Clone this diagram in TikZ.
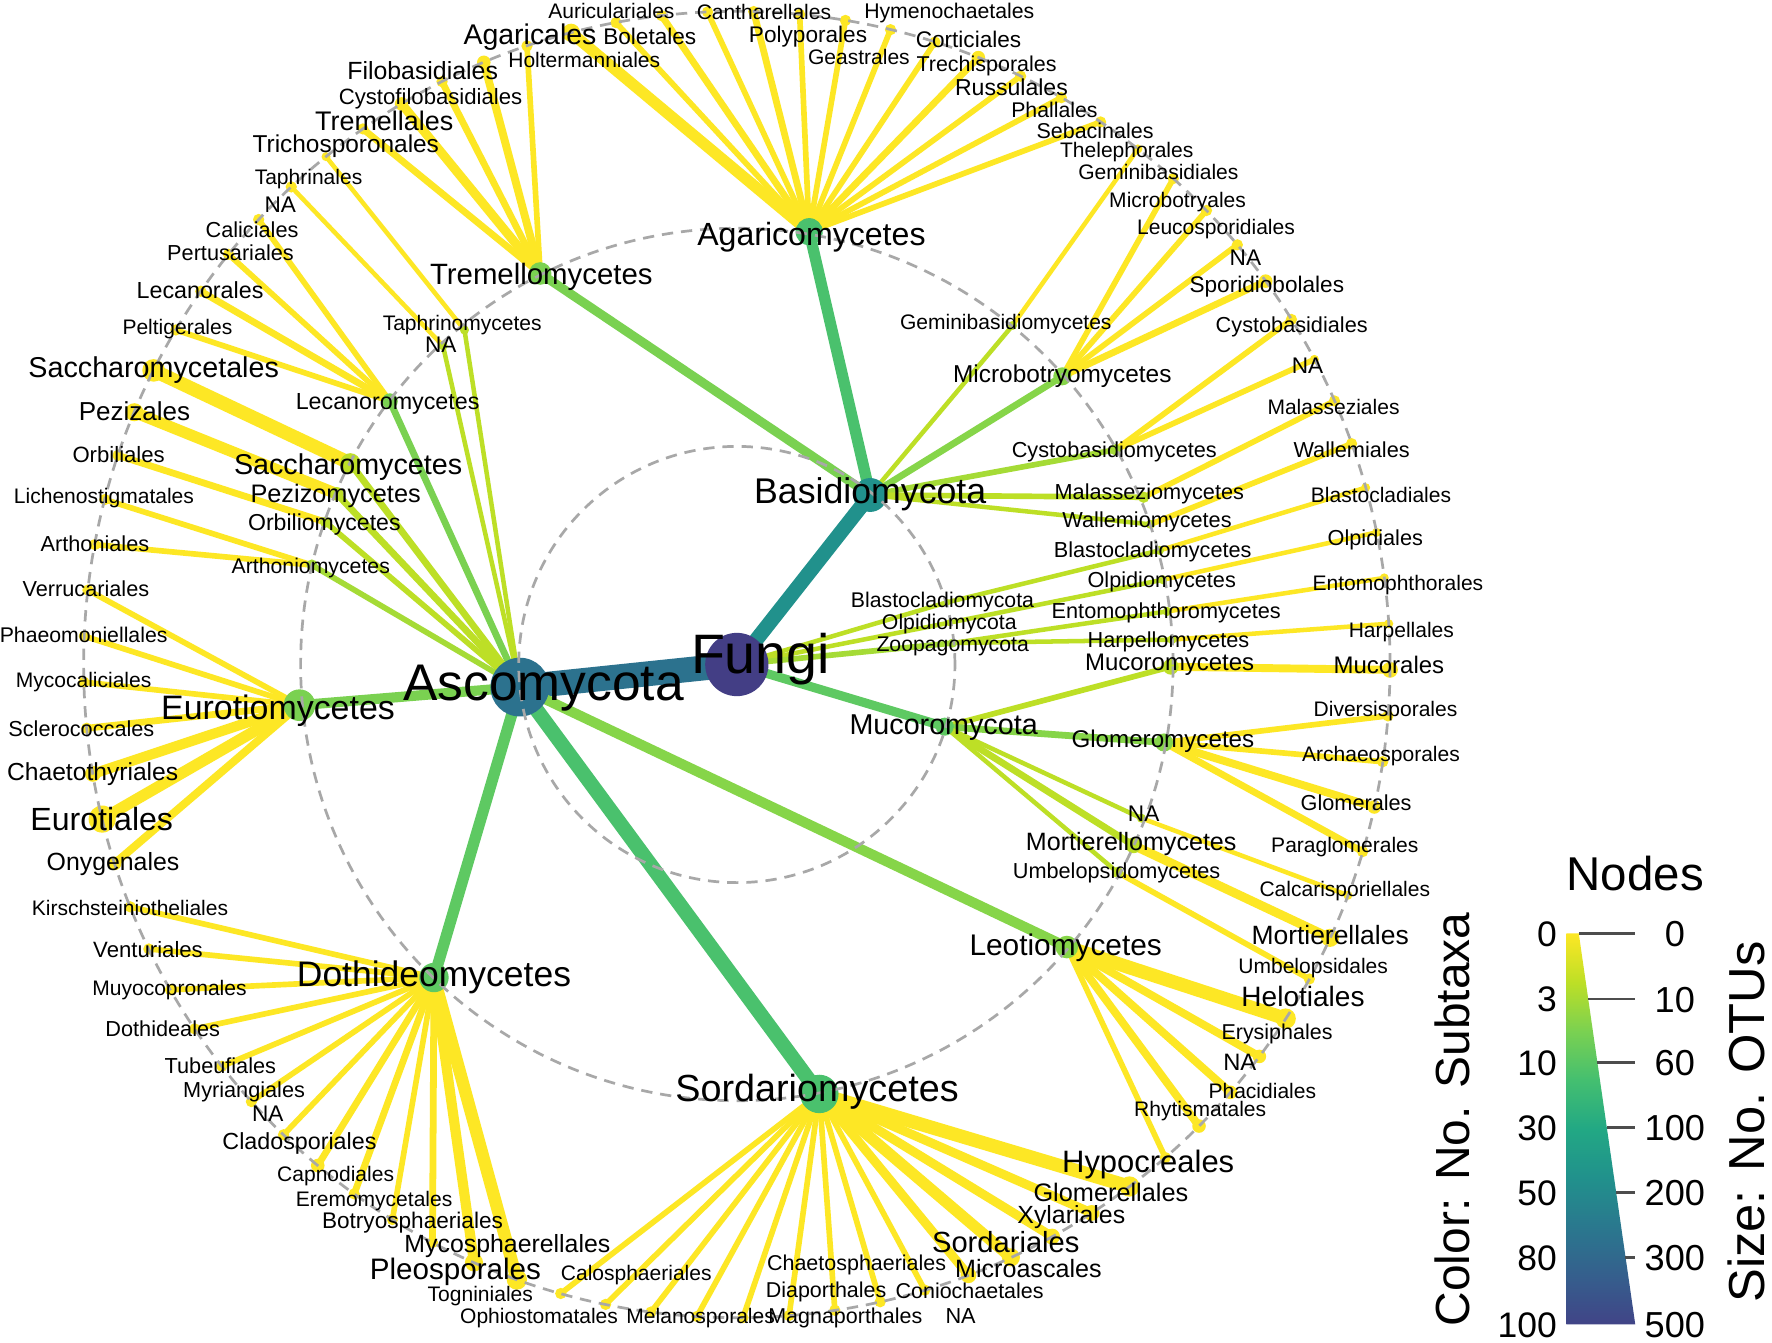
\documentclass[tikz,border=0pt]{standalone}
\usepackage{fontspec}
\setmainfont{Liberation Sans}
\usetikzlibrary{positioning}

\definecolor{cfungi}{HTML}{433E85}
\definecolor{casco}{HTML}{2C728E}
\definecolor{cbasid}{HTML}{21918C}
\definecolor{cgreen}{HTML}{4AC16D}
\definecolor{cgreenb}{HTML}{5EC962}
\definecolor{clight}{HTML}{7AD151}
\definecolor{clightb}{HTML}{86D549}
\definecolor{clime}{HTML}{A5DB36}
\definecolor{climeb}{HTML}{BDDF26}
\definecolor{cyel}{HTML}{FDE725}
\definecolor{cring}{HTML}{A8A8A8}
\definecolor{ctick}{HTML}{4D4D4D}
% legend colours
\definecolor{va}{HTML}{414487}
\definecolor{vb}{HTML}{355F8D}
\definecolor{vc}{HTML}{2A788E}
\definecolor{vd}{HTML}{21918C}
\definecolor{ve}{HTML}{22A884}
\definecolor{vf}{HTML}{44BF70}
\definecolor{vg}{HTML}{7AD151}
\definecolor{vh}{HTML}{BDDF26}
\definecolor{vi}{HTML}{FDE725}
\pgfdeclareverticalshading{virleg}{100bp}{color(0bp)=(va); color(25bp)=(va);
  color(31.25bp)=(vb); color(37.5bp)=(vc); color(43.75bp)=(vd); color(50bp)=(ve);
  color(56.25bp)=(vf); color(62.5bp)=(vg); color(68.75bp)=(vh); color(75bp)=(vi);
  color(100bp)=(vi)}

\pgfdeclarelayer{back}
\pgfdeclarelayer{edges}
\pgfsetlayers{back,edges,main}

\tikzset{
  tdot/.style={circle, inner sep=0pt, minimum size=#1pt},
  lnk/.style={line width=#1*0.5pt},
  ord/.style={line width=#1*0.5pt, cyel},
  lab/.style={font=\fontsize{#1}{#1}\selectfont, inner sep=0pt, text height=#1*0.72pt, text depth=0pt},
}
\tikzstyle{ring} = [cring, line width=1.2pt, dash pattern=on 5pt off 3.5pt]
\tikzstyle{legtick} = [ctick, line width=1.2pt]

\begin{document}
\begin{tikzpicture}[x=0.5pt, y=-0.5pt]
\useasboundingbox (0,0) rectangle (1568,1188);
\begin{pgfonlayer}{back}
\fill[white] (0,0) rectangle (1568,1188);
\end{pgfonlayer}
\coordinate (C) at (652,588);

% kingdom and phyla
\node[tdot=28, fill=cfungi] (fungi) at (C) {};
\node[tdot=26, fill=casco] (asco) at (460,608) {};
\node[tdot=15, fill=cbasid] (basidio) at (770,438) {};
\node[tdot=8, fill=cgreenb] (mucoro) at (836,643) {};
\node[tdot=3, fill=climeb] (blastophy) at (838,533) {};
\node[tdot=3, fill=climeb] (olpidiophy) at (840,551) {};
\node[tdot=4, fill=clime] (zoopago) at (843,569) {};

% classes
\node[tdot=17, fill=cgreen] (sordario) at (725,968) {};
\node[tdot=13, fill=cgreenb] (dothideo) at (384,865) {};
\node[tdot=14, fill=clight] (euroti) at (265,624) {};
\node[tdot=10, fill=clightb] (leotio) at (944,838) {};
\node[tdot=7, fill=clight] (lecanoro) at (345,355) {};
\node[tdot=9, fill=climeb] (saccharo) at (310,410) {};
\node[tdot=6, fill=climeb] (pezizo) at (298,437) {};
\node[tdot=5, fill=climeb] (orbilio) at (288,462) {};
\node[tdot=5, fill=clime] (arthonio) at (276,500) {};
\node[tdot=4, fill=climeb] (taphrino) at (411,292) {};
\node[tdot=4, fill=climeb] (ascona) at (392,306) {};
\node[tdot=12, fill=cgreen] (agarico) at (716,205) {};
\node[tdot=10, fill=clight] (tremello) at (478,242) {};
\node[tdot=4, fill=climeb] (gemini) at (896,288) {};
\node[tdot=8, fill=clightb] (microbotryo) at (940,333) {};
\node[tdot=5, fill=clime] (cysto) at (987,398) {};
\node[tdot=5, fill=climeb] (malassezio) at (1012,440) {};
\node[tdot=4, fill=climeb] (wallemio) at (1018,464) {};
\node[tdot=4, fill=climeb] (blastocl) at (1026,487) {};
\node[tdot=4, fill=climeb] (olpidiocl) at (1029,513) {};
\node[tdot=4, fill=climeb] (entomo) at (1033,541) {};
\node[tdot=4, fill=climeb] (harpello) at (1037,566) {};
\node[tdot=7, fill=climeb] (mucoromyc) at (1036,590) {};
\node[tdot=8, fill=clightb] (glomero) at (1030,657) {};
\node[tdot=4, fill=climeb] (mucona) at (1010,724) {};
\node[tdot=7, fill=climeb] (mortierello) at (1003,748) {};
\node[tdot=5, fill=climeb] (umbelopsido) at (989,772) {};

% orders on the outer ring
\node[tdot=8, fill=cyel] (agaricales) at ([shift={(-104.7:578)}]C) {};
\node[tdot=5, fill=cyel] (auriculariales) at ([shift={(-100.66:578)}]C) {};
\node[tdot=5, fill=cyel] (boletales) at ([shift={(-96.61:578)}]C) {};
\node[tdot=5, fill=cyel] (cantharellales) at ([shift={(-92.57:578)}]C) {};
\node[tdot=5, fill=cyel] (polyporales) at ([shift={(-88.52:578)}]C) {};
\node[tdot=5, fill=cyel] (geastrales) at ([shift={(-84.48:578)}]C) {};
\node[tdot=5, fill=cyel] (hymenochaetales) at ([shift={(-80.43:578)}]C) {};
\node[tdot=5, fill=cyel] (corticiales) at ([shift={(-76.39:578)}]C) {};
\node[tdot=5, fill=cyel] (trechisporales) at ([shift={(-72.34:578)}]C) {};
\node[tdot=6, fill=cyel] (russulales) at ([shift={(-68.30:578)}]C) {};
\node[tdot=5, fill=cyel] (phallales) at ([shift={(-64.25:578)}]C) {};
\node[tdot=5, fill=cyel] (sebacinales) at ([shift={(-60.21:578)}]C) {};
\node[tdot=5, fill=cyel] (thelephorales) at ([shift={(-56.16:578)}]C) {};
\node[tdot=4, fill=cyel] (geminibasidiales) at ([shift={(-52.12:578)}]C) {};
\node[tdot=5, fill=cyel] (microbotryales) at ([shift={(-48.07:578)}]C) {};
\node[tdot=5, fill=cyel] (leucosporidiales) at ([shift={(-44.03:578)}]C) {};
\node[tdot=5, fill=cyel] (namicro) at ([shift={(-39.98:578)}]C) {};
\node[tdot=6, fill=cyel] (sporidiobolales) at ([shift={(-35.94:578)}]C) {};
\node[tdot=5, fill=cyel] (cystobasidiales) at ([shift={(-31.89:578)}]C) {};
\node[tdot=4, fill=cyel] (nacysto) at ([shift={(-27.85:578)}]C) {};
\node[tdot=5, fill=cyel] (malasseziales) at ([shift={(-23.80:578)}]C) {};
\node[tdot=5, fill=cyel] (wallemiales) at ([shift={(-19.76:578)}]C) {};
\node[tdot=4, fill=cyel] (blastocladiales) at ([shift={(-15.71:578)}]C) {};
\node[tdot=4, fill=cyel] (olpidiales) at ([shift={(-11.67:578)}]C) {};
\node[tdot=4, fill=cyel] (entomophthorales) at ([shift={(-7.62:578)}]C) {};
\node[tdot=4, fill=cyel] (harpellales) at ([shift={(-3.58:578)}]C) {};
\node[tdot=7, fill=cyel] (mucorales) at ([shift={(0.47:578)}]C) {};
\node[tdot=5, fill=cyel] (diversisporales) at ([shift={(4.51:578)}]C) {};
\node[tdot=5, fill=cyel] (archaeosporales) at ([shift={(8.56:578)}]C) {};
\node[tdot=6, fill=cyel] (glomerales) at ([shift={(12.60:578)}]C) {};
\node[tdot=5, fill=cyel] (paraglomerales) at ([shift={(16.65:578)}]C) {};
\node[tdot=4, fill=cyel] (calcarisporiellales) at ([shift={(20.69:578)}]C) {};
\node[tdot=8, fill=cyel] (mortierellales) at ([shift={(24.74:578)}]C) {};
\node[tdot=5, fill=cyel] (umbelopsidales) at ([shift={(28.78:578)}]C) {};
\node[tdot=9, fill=cyel] (helotiales) at ([shift={(32.83:578)}]C) {};
\node[tdot=6, fill=cyel] (erysiphales) at ([shift={(36.87:578)}]C) {};
\node[tdot=6, fill=cyel] (naleotio) at ([shift={(40.92:578)}]C) {};
\node[tdot=6, fill=cyel] (phacidiales) at ([shift={(44.96:578)}]C) {};
\node[tdot=5, fill=cyel] (rhytismatales) at ([shift={(49.01:578)}]C) {};
\node[tdot=9, fill=cyel] (hypocreales) at ([shift={(53.05:578)}]C) {};
\node[tdot=7, fill=cyel] (glomerellales) at ([shift={(57.10:578)}]C) {};
\node[tdot=7, fill=cyel] (xylariales) at ([shift={(61.14:578)}]C) {};
\node[tdot=8, fill=cyel] (sordariales) at ([shift={(65.19:578)}]C) {};
\node[tdot=7, fill=cyel] (microascales) at ([shift={(69.23:578)}]C) {};
\node[tdot=5, fill=cyel] (coniochaetales) at ([shift={(73.28:578)}]C) {};
\node[tdot=5, fill=cyel] (nasordario) at ([shift={(77.32:578)}]C) {};
\node[tdot=5, fill=cyel] (magnaporthales) at ([shift={(81.37:578)}]C) {};
\node[tdot=5, fill=cyel] (diaporthales) at ([shift={(85.41:578)}]C) {};
\node[tdot=5, fill=cyel] (chaetosphaeriales) at ([shift={(89.46:578)}]C) {};
\node[tdot=5, fill=cyel] (melanosporales) at ([shift={(93.50:578)}]C) {};
\node[tdot=5, fill=cyel] (ophiostomatales) at ([shift={(97.55:578)}]C) {};
\node[tdot=5, fill=cyel] (calosphaeriales) at ([shift={(101.59:578)}]C) {};
\node[tdot=5, fill=cyel] (togniniales) at ([shift={(105.64:578)}]C) {};
\node[tdot=9, fill=cyel] (pleosporales) at ([shift={(109.68:578)}]C) {};
\node[tdot=8, fill=cyel] (mycosphaerellales) at ([shift={(113.73:578)}]C) {};
\node[tdot=5, fill=cyel] (botryosphaeriales) at ([shift={(117.77:578)}]C) {};
\node[tdot=5, fill=cyel] (eremomycetales) at ([shift={(121.82:578)}]C) {};
\node[tdot=5, fill=cyel] (capnodiales) at ([shift={(125.86:578)}]C) {};
\node[tdot=6, fill=cyel] (cladosporiales) at ([shift={(129.91:578)}]C) {};
\node[tdot=5, fill=cyel] (nadothideo) at ([shift={(133.95:578)}]C) {};
\node[tdot=5, fill=cyel] (myriangiales) at ([shift={(138.00:578)}]C) {};
\node[tdot=5, fill=cyel] (tubeufiales) at ([shift={(142.04:578)}]C) {};
\node[tdot=5, fill=cyel] (dothideales) at ([shift={(146.09:578)}]C) {};
\node[tdot=5, fill=cyel] (muyocopronales) at ([shift={(150.13:578)}]C) {};
\node[tdot=5, fill=cyel] (venturiales) at ([shift={(154.18:578)}]C) {};
\node[tdot=5, fill=cyel] (kirschsteiniotheliales) at ([shift={(158.22:578)}]C) {};
\node[tdot=6, fill=cyel] (onygenales) at ([shift={(162.27:578)}]C) {};
\node[tdot=12, fill=cyel] (eurotiales) at ([shift={(166.31:578)}]C) {};
\node[tdot=7, fill=cyel] (chaetothyriales) at ([shift={(170.36:578)}]C) {};
\node[tdot=5, fill=cyel] (sclerococcales) at ([shift={(174.40:578)}]C) {};
\node[tdot=5, fill=cyel] (mycocaliciales) at ([shift={(178.45:578)}]C) {};
\node[tdot=5, fill=cyel] (phaeomoniellales) at ([shift={(182.49:578)}]C) {};
\node[tdot=5, fill=cyel] (verrucariales) at ([shift={(186.54:578)}]C) {};
\node[tdot=5, fill=cyel] (arthoniales) at ([shift={(190.58:578)}]C) {};
\node[tdot=5, fill=cyel] (lichenostigmatales) at ([shift={(194.63:578)}]C) {};
\node[tdot=5, fill=cyel] (orbiliales) at ([shift={(198.67:578)}]C) {};
\node[tdot=8, fill=cyel] (pezizales) at ([shift={(202.72:578)}]C) {};
\node[tdot=10, fill=cyel] (saccharomycetales) at ([shift={(206.76:578)}]C) {};
\node[tdot=5, fill=cyel] (peltigerales) at ([shift={(210.81:578)}]C) {};
\node[tdot=5, fill=cyel] (lecanorales) at ([shift={(214.85:578)}]C) {};
\node[tdot=5, fill=cyel] (pertusariales) at ([shift={(218.90:578)}]C) {};
\node[tdot=5, fill=cyel] (caliciales) at ([shift={(222.94:578)}]C) {};
\node[tdot=5, fill=cyel] (naasco) at ([shift={(226.99:578)}]C) {};
\node[tdot=4, fill=cyel] (taphrinales) at ([shift={(231.03:578)}]C) {};
\node[tdot=5, fill=cyel] (trichosporonales) at ([shift={(235.08:578)}]C) {};
\node[tdot=6, fill=cyel] (tremellales) at ([shift={(239.12:578)}]C) {};
\node[tdot=5, fill=cyel] (cystofilobasidiales) at ([shift={(243.17:578)}]C) {};
\node[tdot=6, fill=cyel] (filobasidiales) at ([shift={(247.21:578)}]C) {};
\node[tdot=5, fill=cyel] (holtermanniales) at ([shift={(251.26:578)}]C) {};

\begin{pgfonlayer}{edges}
% kingdom to phyla
\draw[lnk=22, casco] (fungi.center) -- (asco.center);
\draw[lnk=13, cbasid] (fungi.center) -- (basidio.center);
\draw[lnk=8, cgreenb] (fungi.center) -- (mucoro.center);
\draw[lnk=4, climeb] (fungi.center) -- (blastophy.center);
\draw[lnk=4, climeb] (fungi.center) -- (olpidiophy.center);
\draw[lnk=5, clime] (fungi.center) -- (zoopago.center);
% phyla to classes
\draw[lnk=13, cgreen] (asco.center) -- (sordario.center);
\draw[lnk=10, cgreenb] (asco.center) -- (dothideo.center);
\draw[lnk=9, clight] (asco.center) -- (euroti.center);
\draw[lnk=9, clightb] (asco.center) -- (leotio.center);
\draw[lnk=6, clight] (asco.center) -- (lecanoro.center);
\draw[lnk=6, climeb] (asco.center) -- (saccharo.center);
\draw[lnk=6, climeb] (asco.center) -- (pezizo.center);
\draw[lnk=5, climeb] (asco.center) -- (orbilio.center);
\draw[lnk=5, clime] (asco.center) -- (arthonio.center);
\draw[lnk=4, climeb] (asco.center) -- (taphrino.center);
\draw[lnk=4, climeb] (asco.center) -- (ascona.center);
\draw[lnk=10, cgreen] (basidio.center) -- (agarico.center);
\draw[lnk=8, clight] (basidio.center) -- (tremello.center);
\draw[lnk=6, clightb] (basidio.center) -- (microbotryo.center);
\draw[lnk=4, climeb] (basidio.center) -- (gemini.center);
\draw[lnk=5, clime] (basidio.center) -- (cysto.center);
\draw[lnk=5, climeb] (basidio.center) -- (malassezio.center);
\draw[lnk=4, climeb] (basidio.center) -- (wallemio.center);
\draw[lnk=4, climeb] (blastophy.center) -- (blastocl.center);
\draw[lnk=4, climeb] (olpidiophy.center) -- (olpidiocl.center);
\draw[lnk=4, climeb] (zoopago.center) -- (entomo.center);
\draw[lnk=4, climeb] (zoopago.center) -- (harpello.center);
\draw[lnk=5, climeb] (mucoro.center) -- (mucoromyc.center);
\draw[lnk=6, clightb] (mucoro.center) -- (glomero.center);
\draw[lnk=4, climeb] (mucoro.center) -- (mucona.center);
\draw[lnk=6, climeb] (mucoro.center) -- (mortierello.center);
\draw[lnk=4, climeb] (mucoro.center) -- (umbelopsido.center);
% classes to orders
\draw[ord=10] (agarico.center) -- (agaricales.center);
\draw[ord=5] (agarico.center) -- (auriculariales.center);
\draw[ord=6] (agarico.center) -- (boletales.center);
\draw[ord=5] (agarico.center) -- (cantharellales.center);
\draw[ord=6] (agarico.center) -- (polyporales.center);
\draw[ord=5] (agarico.center) -- (geastrales.center);
\draw[ord=5] (agarico.center) -- (hymenochaetales.center);
\draw[ord=5] (agarico.center) -- (corticiales.center);
\draw[ord=5] (agarico.center) -- (trechisporales.center);
\draw[ord=6] (agarico.center) -- (russulales.center);
\draw[ord=5] (agarico.center) -- (phallales.center);
\draw[ord=5] (agarico.center) -- (sebacinales.center);
\draw[ord=5] (agarico.center) -- (thelephorales.center);
\draw[ord=4] (gemini.center) -- (geminibasidiales.center);
\draw[ord=5] (microbotryo.center) -- (microbotryales.center);
\draw[ord=5] (microbotryo.center) -- (leucosporidiales.center);
\draw[ord=5] (microbotryo.center) -- (namicro.center);
\draw[ord=6] (microbotryo.center) -- (sporidiobolales.center);
\draw[ord=5] (cysto.center) -- (cystobasidiales.center);
\draw[ord=5] (cysto.center) -- (nacysto.center);
\draw[ord=5] (malassezio.center) -- (malasseziales.center);
\draw[ord=5] (wallemio.center) -- (wallemiales.center);
\draw[ord=4] (blastocl.center) -- (blastocladiales.center);
\draw[ord=4] (olpidiocl.center) -- (olpidiales.center);
\draw[ord=4] (entomo.center) -- (entomophthorales.center);
\draw[ord=4] (harpello.center) -- (harpellales.center);
\draw[ord=7] (mucoromyc.center) -- (mucorales.center);
\draw[ord=5] (glomero.center) -- (diversisporales.center);
\draw[ord=5] (glomero.center) -- (archaeosporales.center);
\draw[ord=7] (glomero.center) -- (glomerales.center);
\draw[ord=6] (glomero.center) -- (paraglomerales.center);
\draw[ord=4] (mucona.center) -- (calcarisporiellales.center);
\draw[ord=8] (mortierello.center) -- (mortierellales.center);
\draw[ord=5] (umbelopsido.center) -- (umbelopsidales.center);
\draw[ord=12] (leotio.center) -- (helotiales.center);
\draw[ord=7] (leotio.center) -- (erysiphales.center);
\draw[ord=7] (leotio.center) -- (naleotio.center);
\draw[ord=7] (leotio.center) -- (phacidiales.center);
\draw[ord=5] (leotio.center) -- (rhytismatales.center);
\draw[ord=12] (sordario.center) -- (hypocreales.center);
\draw[ord=8] (sordario.center) -- (glomerellales.center);
\draw[ord=8] (sordario.center) -- (xylariales.center);
\draw[ord=10] (sordario.center) -- (sordariales.center);
\draw[ord=8] (sordario.center) -- (microascales.center);
\draw[ord=5] (sordario.center) -- (coniochaetales.center);
\draw[ord=5] (sordario.center) -- (nasordario.center);
\draw[ord=5] (sordario.center) -- (magnaporthales.center);
\draw[ord=5] (sordario.center) -- (diaporthales.center);
\draw[ord=5] (sordario.center) -- (chaetosphaeriales.center);
\draw[ord=5] (sordario.center) -- (melanosporales.center);
\draw[ord=5] (sordario.center) -- (ophiostomatales.center);
\draw[ord=5] (sordario.center) -- (calosphaeriales.center);
\draw[ord=5] (sordario.center) -- (togniniales.center);
\draw[ord=11] (dothideo.center) -- (pleosporales.center);
\draw[ord=9] (dothideo.center) -- (mycosphaerellales.center);
\draw[ord=6] (dothideo.center) -- (botryosphaeriales.center);
\draw[ord=5] (dothideo.center) -- (eremomycetales.center);
\draw[ord=6] (dothideo.center) -- (capnodiales.center);
\draw[ord=6] (dothideo.center) -- (cladosporiales.center);
\draw[ord=5] (dothideo.center) -- (nadothideo.center);
\draw[ord=5] (dothideo.center) -- (myriangiales.center);
\draw[ord=5] (dothideo.center) -- (tubeufiales.center);
\draw[ord=5] (dothideo.center) -- (dothideales.center);
\draw[ord=5] (dothideo.center) -- (muyocopronales.center);
\draw[ord=5] (dothideo.center) -- (venturiales.center);
\draw[ord=5] (dothideo.center) -- (kirschsteiniotheliales.center);
\draw[ord=7] (euroti.center) -- (onygenales.center);
\draw[ord=10] (euroti.center) -- (eurotiales.center);
\draw[ord=9] (euroti.center) -- (chaetothyriales.center);
\draw[ord=6] (euroti.center) -- (sclerococcales.center);
\draw[ord=5] (euroti.center) -- (mycocaliciales.center);
\draw[ord=5] (euroti.center) -- (phaeomoniellales.center);
\draw[ord=5] (euroti.center) -- (verrucariales.center);
\draw[ord=5] (arthonio.center) -- (arthoniales.center);
\draw[ord=5] (arthonio.center) -- (lichenostigmatales.center);
\draw[ord=6] (orbilio.center) -- (orbiliales.center);
\draw[ord=10] (pezizo.center) -- (pezizales.center);
\draw[ord=12] (saccharo.center) -- (saccharomycetales.center);
\draw[ord=5] (lecanoro.center) -- (peltigerales.center);
\draw[ord=6] (lecanoro.center) -- (lecanorales.center);
\draw[ord=5] (lecanoro.center) -- (pertusariales.center);
\draw[ord=5] (lecanoro.center) -- (caliciales.center);
\draw[ord=4] (ascona.center) -- (naasco.center);
\draw[ord=4] (taphrino.center) -- (taphrinales.center);
\draw[ord=6] (tremello.center) -- (trichosporonales.center);
\draw[ord=8] (tremello.center) -- (tremellales.center);
\draw[ord=6] (tremello.center) -- (cystofilobasidiales.center);
\draw[ord=7] (tremello.center) -- (filobasidiales.center);
\draw[ord=5] (tremello.center) -- (holtermanniales.center);
\end{pgfonlayer}

% guide rings
\draw[ring] (C) circle [radius=96.5pt];
\draw[ring] (C) circle [radius=193pt];
\draw[ring] (C) circle [radius=289pt];

% labels: kingdom, phyla, classes
\node[lab=24.6] (fungi-l) at (673,578) {Fungi};
\node[lab=22.8] (asco-l) at (481,603) {Ascomycota};
\node[lab=15.8] (basidio-l) at (770,434) {Basidiomycota};
\node[lab=12.7] (mucoro-l) at (835,641) {Mucoromycota};
\node[lab=9.4] (blastophy-l) at (834,531) {Blastocladiomycota};
\node[lab=9.4] (olpidiophy-l) at (840,550) {Olpidiomycota};
\node[lab=9.4] (zoopago-l) at (843,570) {Zoopagomycota};
\node[lab=16.7] (sordario-l) at (723,963) {Sordariomycetes};
\node[lab=15.7] (dothideo-l) at (384,862) {Dothideomycetes};
\node[lab=15] (euroti-l) at (246,626) {Eurotiomycetes};
\node[lab=13.2] (leotio-l) at (943,836) {Leotiomycetes};
\node[lab=10.3] (lecanoro-l) at (343,355) {Lecanoromycetes};
\node[lab=12.7] (saccharo-l) at (308,411) {Saccharomycetes};
\node[lab=11.2] (pezizo-l) at (297,437) {Pezizomycetes};
\node[lab=10.2] (orbilio-l) at (287,462) {Orbiliomycetes};
\node[lab=9.4] (arthonio-l) at (275,501) {Arthoniomycetes};
\node[lab=9.3] (taphrino-l) at (409,286) {Taphrinomycetes};
\node[lab=10] (ascona-l) at (390,305) {NA};
\node[lab=14.2] (agarico-l) at (718,207) {Agaricomycetes};
\node[lab=13] (tremello-l) at (479,242) {Tremellomycetes};
\node[lab=9.3] (gemini-l) at (890,285) {Geminibasidiomycetes};
\node[lab=10.8] (microbotryo-l) at (940,331) {Microbotryomycetes};
\node[lab=9.6] (cysto-l) at (986,398) {Cystobasidiomycetes};
\node[lab=9.6] (malassezio-l) at (1017,435) {Malasseziomycetes};
\node[lab=9.6] (wallemio-l) at (1015,460) {Wallemiomycetes};
\node[lab=9.6] (blastocl-l) at (1020,486) {Blastocladiomycetes};
\node[lab=9.6] (olpidiocl-l) at (1028,513) {Olpidiomycetes};
\node[lab=9.6] (entomo-l) at (1032,540) {Entomophthoromycetes};
\node[lab=9.6] (harpello-l) at (1034,566) {Harpellomycetes};
\node[lab=10.6] (mucoromyc-l) at (1035,586) {Mucoromycetes};
\node[lab=10.7] (glomero-l) at (1029,654) {Glomeromycetes};
\node[lab=10] (mucona-l) at (1012,720) {NA};
\node[lab=11.1] (mortierello-l) at (1001,745) {Mortierellomycetes};
\node[lab=9.6] (umbelopsido-l) at (988,770) {Umbelopsidomycetes};

% labels: orders
\node[lab=12.6] (agaricales-l) at (469,30) {Agaricales};
\node[lab=9.3] (auriculariales-l) at (541,10) {Auriculariales};
\node[lab=10] (boletales-l) at (575,32) {Boletales};
\node[lab=9.3] (cantharellales-l) at (676,11) {Cantharellales};
\node[lab=10] (polyporales-l) at (715,30) {Polyporales};
\node[lab=9.3] (geastrales-l) at (760,50) {Geastrales};
\node[lab=9.4] (hymenochaetales-l) at (840,10) {Hymenochaetales};
\node[lab=10] (corticiales-l) at (857,35) {Corticiales};
\node[lab=9.5] (trechisporales-l) at (873,56) {Trechisporales};
\node[lab=10.2] (russulales-l) at (895,77) {Russulales};
\node[lab=9.4] (phallales-l) at (933,97) {Phallales};
\node[lab=9.5] (sebacinales-l) at (969,116) {Sebacinales};
\node[lab=9.3] (thelephorales-l) at (997,133) {Thelephorales};
\node[lab=9.3] (geminibasidiales-l) at (1025,152) {Geminibasidiales};
\node[lab=9.3] (microbotryales-l) at (1042,177) {Microbotryales};
\node[lab=9.3] (leucosporidiales-l) at (1076,201) {Leucosporidiales};
\node[lab=10] (namicro-l) at (1102,228) {NA};
\node[lab=10] (sporidiobolales-l) at (1121,252) {Sporidiobolales};
\node[lab=9.6] (cystobasidiales-l) at (1143,287) {Cystobasidiales};
\node[lab=10] (nacysto-l) at (1157,323) {NA};
\node[lab=9.3] (malasseziales-l) at (1180,360) {Malasseziales};
\node[lab=9.6] (wallemiales-l) at (1196,398) {Wallemiales};
\node[lab=9.3] (blastocladiales-l) at (1222,438) {Blastocladiales};
\node[lab=9.6] (olpidiales-l) at (1217,476) {Olpidiales};
\node[lab=9.3] (entomophthorales-l) at (1237,516) {Entomophthorales};
\node[lab=9.3] (harpellales-l) at (1240,557) {Harpellales};
\node[lab=10.6] (mucorales-l) at (1229,588) {Mucorales};
\node[lab=9.3] (diversisporales-l) at (1226,627) {Diversisporales};
\node[lab=9.3] (archaeosporales-l) at (1222,667) {Archaeosporales};
\node[lab=9.6] (glomerales-l) at (1200,710) {Glomerales};
\node[lab=9.3] (paraglomerales-l) at (1190,748) {Paraglomerales};
\node[lab=9.3] (calcarisporiellales-l) at (1190,787) {Calcarisporiellales};
\node[lab=11.7] (mortierellales-l) at (1177,827) {Mortierellales};
\node[lab=9.3] (umbelopsidales-l) at (1162,855) {Umbelopsidales};
\node[lab=12.4] (helotiales-l) at (1153,882) {Helotiales};
\node[lab=9.5] (erysiphales-l) at (1130,913) {Erysiphales};
\node[lab=10.5] (naleotio-l) at (1097,940) {NA};
\node[lab=9.3] (phacidiales-l) at (1117,965) {Phacidiales};
\node[lab=9.3] (rhytismatales-l) at (1062,981) {Rhytismatales};
\node[lab=13.7] (hypocreales-l) at (1016,1028) {Hypocreales};
\node[lab=11.2] (glomerellales-l) at (983,1055) {Glomerellales};
\node[lab=11] (xylariales-l) at (948,1075) {Xylariales};
\node[lab=12.9] (sordariales-l) at (890,1099) {Sordariales};
\node[lab=11.1] (microascales-l) at (910,1122) {Microascales};
\node[lab=9.5] (coniochaetales-l) at (858,1142) {Coniochaetales};
\node[lab=9.6] (nasordario-l) at (850,1164) {NA};
\node[lab=9.5] (magnaporthales-l) at (748,1164) {Magnaporthales};
\node[lab=9.5] (diaporthales-l) at (731,1141) {Diaporthales};
\node[lab=9.5] (chaetosphaeriales-l) at (758,1117) {Chaetosphaeriales};
\node[lab=9.3] (melanosporales-l) at (620,1164) {Melanosporales};
\node[lab=9.3] (ophiostomatales-l) at (477,1164) {Ophiostomatales};
\node[lab=9.3] (calosphaeriales-l) at (563,1126) {Calosphaeriales};
\node[lab=9.3] (togniniales-l) at (425,1145) {Togniniales};
\node[lab=13.1] (pleosporales-l) at (403,1123) {Pleosporales};
\node[lab=11] (mycosphaerellales-l) at (449,1100) {Mycosphaerellales};
\node[lab=10] (botryosphaeriales-l) at (365,1080) {Botryosphaeriales};
\node[lab=9.3] (eremomycetales-l) at (331,1061) {Eremomycetales};
\node[lab=9.3] (capnodiales-l) at (297,1039) {Capnodiales};
\node[lab=10.3] (cladosporiales-l) at (265,1010) {Cladosporiales};
\node[lab=10] (nadothideo-l) at (237,985) {NA};
\node[lab=9.6] (myriangiales-l) at (216,964) {Myriangiales};
\node[lab=9.6] (tubeufiales-l) at (195,943) {Tubeufiales};
\node[lab=9.6] (dothideales-l) at (144,910) {Dothideales};
\node[lab=9.3] (muyocopronales-l) at (150,874) {Muyocopronales};
\node[lab=9.8] (venturiales-l) at (131,840) {Venturiales};
\node[lab=9.3] (kirschsteiniotheliales-l) at (115,803) {Kirschsteiniotheliales};
\node[lab=11] (onygenales-l) at (100,762) {Onygenales};
\node[lab=14.2] (eurotiales-l) at (90,725) {Eurotiales};
\node[lab=10.9] (chaetothyriales-l) at (82,683) {Chaetothyriales};
\node[lab=9.6] (sclerococcales-l) at (72,645) {Sclerococcales};
\node[lab=9.3] (mycocaliciales-l) at (74,602) {Mycocaliciales};
\node[lab=9.4] (phaeomoniellales-l) at (74,562) {Phaeomoniellales};
\node[lab=9.6] (verrucariales-l) at (76,521) {Verrucariales};
\node[lab=9.6] (arthoniales-l) at (84,481) {Arthoniales};
\node[lab=9.3] (lichenostigmatales-l) at (92,439) {Lichenostigmatales};
\node[lab=9.8] (orbiliales-l) at (105,402) {Orbiliales};
\node[lab=11.5] (pezizales-l) at (119,364) {Pezizales};
\node[lab=12.7] (saccharomycetales-l) at (136,325) {Saccharomycetales};
\node[lab=9.3] (peltigerales-l) at (157,289) {Peltigerales};
\node[lab=10.3] (lecanorales-l) at (177,257) {Lecanorales};
\node[lab=9.6] (pertusariales-l) at (204,224) {Pertusariales};
\node[lab=9.6] (caliciales-l) at (223,203) {Caliciales};
\node[lab=10] (naasco-l) at (248,181) {NA};
\node[lab=9.3] (taphrinales-l) at (273,157) {Taphrinales};
\node[lab=10.8] (trichosporonales-l) at (306,127) {Trichosporonales};
\node[lab=11.9] (tremellales-l) at (340,107) {Tremellales};
\node[lab=9.8] (cystofilobasidiales-l) at (381,85) {Cystofilobasidiales};
\node[lab=11] (filobasidiales-l) at (374,62) {Filobasidiales};
\node[lab=9.3] (holtermanniales-l) at (517,53) {Holtermanniales};

% legend
\node[lab=21] (legtitle) at (1447,773) {Nodes};
\shade[shading=virleg] (1386,826) -- (1397,826) -- (1447,1172) -- (1386,1172) -- cycle;
\draw[legtick] (1397,826) -- (1447,826);
\draw[legtick] (1405,884) -- (1447,884);
\draw[legtick] (1413,940) -- (1447,940);
\draw[legtick] (1422,998) -- (1447,998);
\draw[legtick] (1430,1055) -- (1447,1055);
\draw[legtick] (1438,1113) -- (1447,1113);
\node[lab=15.7, anchor=east] (lc0) at (1378,826) {0};
\node[lab=15.7, anchor=east] (lc1) at (1378,884) {3};
\node[lab=15.7, anchor=east] (lc2) at (1378,940) {10};
\node[lab=15.7, anchor=east] (lc3) at (1378,998) {30};
\node[lab=15.7, anchor=east] (lc4) at (1378,1055) {50};
\node[lab=15.7, anchor=east] (lc5) at (1378,1113) {80};
\node[lab=15.7, anchor=east] (lc6) at (1378,1172) {100};
\node[lab=16] (ls0) at (1482,826) {0};
\node[lab=16] (ls1) at (1482,884) {10};
\node[lab=16] (ls2) at (1482,940) {60};
\node[lab=16] (ls3) at (1482,998) {100};
\node[lab=16] (ls4) at (1482,1055) {200};
\node[lab=16] (ls5) at (1482,1113) {300};
\node[lab=16] (ls6) at (1482,1172) {500};
\node[lab=21.2, rotate=90, anchor=west] (colortitle) at (1285,1174) {Color: No. Subtaxa};
\node[lab=22.4, rotate=90, anchor=west] (sizetitle) at (1545,1153) {Size: No. OTUs};
\end{tikzpicture}
\end{document}
